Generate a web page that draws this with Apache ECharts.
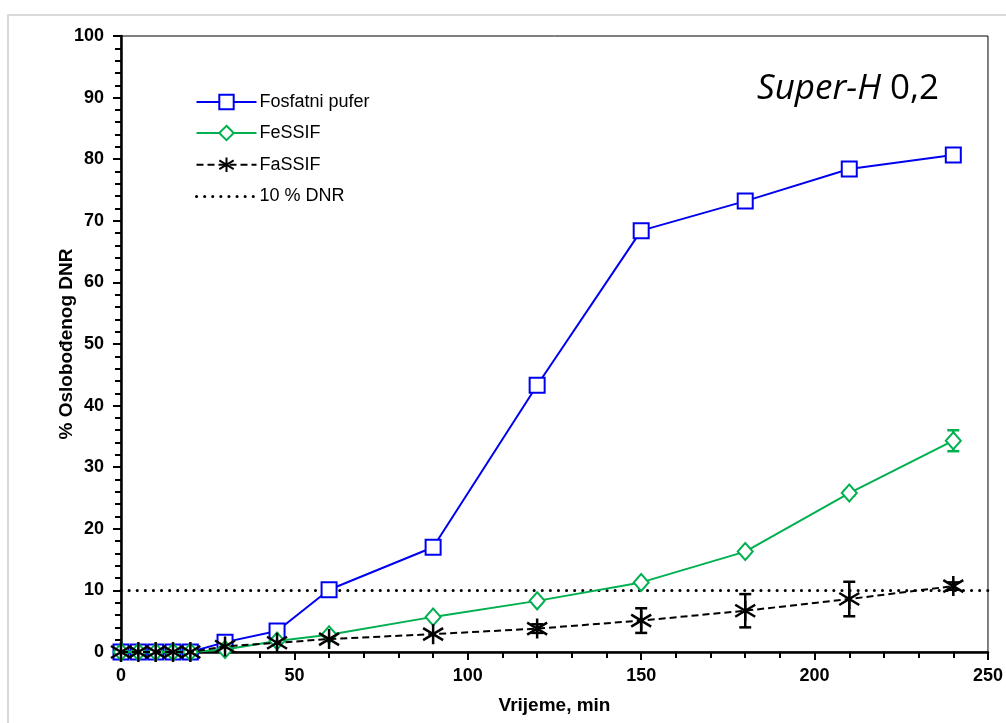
<!DOCTYPE html>
<html>
<head>
<meta charset="utf-8">
<script src="https://cdn.jsdelivr.net/npm/echarts@6/dist/echarts.min.js"></script>
<style>
html,body{margin:0;padding:0;background:#fff;}
#chart{width:1006px;height:723px;}
</style>
</head>
<body>
<div id="chart"></div>
<script>
// ---- data ----
var times = [0, 5, 10, 15, 20, 30, 45, 60, 90, 120, 150, 180, 210, 240];
var fosfatni = [0, 0, 0, 0, 0, 1.6, 3.4, 10.1, 17.0, 43.3, 68.4, 73.2, 78.4, 80.7];
var fosfatniErr = [0, 0, 0, 0, 0, 0, 0, 0, 0, 0, 0.7, 0.9, 0.3, 0.3];
var fessif = [0, 0, 0, 0, 0, 0.4, 1.8, 2.8, 5.7, 8.3, 11.3, 16.3, 25.8, 34.3];
var fessifErr = [0, 0, 0, 0, 0, 0, 0, 0, 0, 0, 0, 0, 0.4, 1.7];
var fassif = [0, 0, 0, 0, 0, 0.9, 1.5, 2.1, 2.9, 3.8, 5.1, 6.7, 8.6, 10.7];
var fassifErr = [0, 0, 0, 0, 0, 0, 0, 0, 0, 0.7, 2.0, 2.7, 2.8, 0.6];
var dnrLevel = 10;
var xTicks = [0, 50, 100, 150, 200, 250];
var yTicks = [0, 10, 20, 30, 40, 50, 60, 70, 80, 90, 100];
var names = ['Fosfatni pufer', 'FeSSIF', 'FaSSIF', '10 % DNR'];

function pairs(vals) { return times.map(function (t, i) { return [t, vals[i]]; }); }
function errData(vals, errs) {
  var out = [];
  times.forEach(function (t, i) { if (errs[i] > 0) out.push([t, vals[i] - errs[i], vals[i] + errs[i]]); });
  return out;
}
function errSeries(vals, errs, color, z) {
  return {
    type: 'custom', z: z, silent: true,
    data: errData(vals, errs),
    encode: { x: 0, y: [1, 2] },
    renderItem: function (params, api) {
      var lo = api.coord([api.value(0), api.value(1)]);
      var hi = api.coord([api.value(0), api.value(2)]);
      var w = 6;
      var st = { stroke: color, lineWidth: 2.5, fill: null };
      return { type: 'group', children: [
        { type: 'line', shape: { x1: lo[0], y1: lo[1], x2: hi[0], y2: hi[1] }, style: st },
        { type: 'line', shape: { x1: lo[0] - w, y1: lo[1], x2: lo[0] + w, y2: lo[1] }, style: st },
        { type: 'line', shape: { x1: hi[0] - w, y1: hi[1], x2: hi[0] + w, y2: hi[1] }, style: st }
      ]};
    }
  };
}

var asterisk = 'path://M0,-1L0,1M-0.9,-0.6L0.9,0.6M-0.9,0.6L0.9,-0.6';
var blue = '#0000F0', green = '#00B050', black = '#000000';
var tickFont = { fontFamily: 'Liberation Sans, Arial, sans-serif', fontWeight: 'bold', fontSize: 18, color: '#000' };
var nameFont = { fontFamily: 'Liberation Sans, Arial, sans-serif', fontWeight: 'bold', fontSize: 19, color: '#000' };

var chart = echarts.init(document.getElementById('chart'), null, { renderer: 'canvas' });
chart.setOption({
  animation: false,
  backgroundColor: '#fff',
  graphic: [
    { type: 'rect', z: -10, shape: { x: 8, y: 15, width: 1010, height: 720 }, style: { fill: null, stroke: '#d9d9d9', lineWidth: 2 } }
  ],
  title: {
    text: '{i|Super-H} {n|0,2}',
    left: 752, top: 67,
    textStyle: {
      fontWeight: 'normal',
      rich: {
        i: { fontFamily: 'Open Sans, sans-serif', fontStyle: 'italic', fontWeight: 'normal', fontSize: 35, color: '#000' },
        n: { fontFamily: 'Open Sans, sans-serif', fontWeight: 'normal', fontSize: 35, color: '#000', padding: [0, 0, 0, 4] }
      }
    }
  },
  legend: {
    data: [
      { name: names[0] },
      { name: names[1] },
      { name: names[2] },
      { name: names[3], itemStyle: { opacity: 0 }, lineStyle: { width: 3, type: [0.1, 8], cap: 'round' } }
    ],
    orient: 'vertical',
    left: 190, top: 88,
    itemWidth: 60, itemHeight: 18, itemGap: 13,
    textStyle: { fontFamily: 'Liberation Sans, Arial, sans-serif', fontSize: 18, color: '#000', padding: [0, 0, 0, -2] }
  },
  grid: { left: 121, top: 36, right: 17, bottom: 71, show: true, borderColor: '#000', borderWidth: 1, backgroundColor: 'transparent' },
  xAxis: {
    type: 'value', min: 0, max: 250, interval: 50,
    name: 'Vrijeme, min', nameLocation: 'middle', nameGap: 44, nameMoveOverlap: false,
    nameTextStyle: nameFont,
    axisLine: { lineStyle: { color: '#000', width: 2.5 } },
    axisTick: { show: true, inside: false, length: 8, lineStyle: { color: '#000', width: 2 } },
    minorTick: { show: true, splitNumber: 5, length: 6, lineStyle: { color: '#000', width: 2 } },
    splitLine: { show: false },
    axisLabel: Object.assign({ margin: 15, customValues: xTicks }, tickFont)
  },
  yAxis: {
    type: 'value', min: 0, max: 100, interval: 10,
    name: '% Oslobođenog DNR', nameLocation: 'middle', nameGap: 45, nameRotate: 90, nameMoveOverlap: false,
    nameTextStyle: nameFont,
    axisLine: { lineStyle: { color: '#000', width: 2.5 } },
    axisTick: { show: true, inside: false, length: 8, lineStyle: { color: '#000', width: 2 } },
    minorTick: { show: true, splitNumber: 5, length: 6, lineStyle: { color: '#000', width: 2 } },
    splitLine: { show: false },
    axisLabel: Object.assign({ margin: 17 }, tickFont)
  },
  series: [
    {
      name: names[3], type: 'line', z: 2, symbol: 'none',
      data: [[0, dnrLevel], [250, dnrLevel]],
      lineStyle: { color: black, width: 3, type: [0.1, 8], cap: 'round' },
      itemStyle: { color: black }
    },
    {
      name: names[0], type: 'line', z: 3, data: pairs(fosfatni),
      symbol: 'rect', symbolSize: 15, showAllSymbol: true,
      lineStyle: { color: blue, width: 2 },
      itemStyle: { color: '#fff', borderColor: blue, borderWidth: 2 }
    },
    errSeries(fosfatni, fosfatniErr, blue, 3),
    {
      name: names[1], type: 'line', z: 4, data: pairs(fessif),
      symbol: 'diamond', symbolSize: [15, 17], showAllSymbol: true,
      lineStyle: { color: green, width: 2 },
      itemStyle: { color: '#fff', borderColor: green, borderWidth: 2 }
    },
    errSeries(fessif, fessifErr, green, 4),
    {
      name: names[2], type: 'line', z: 5, data: pairs(fassif),
      symbol: asterisk, symbolSize: 20, showAllSymbol: true,
      lineStyle: { color: black, width: 2, type: [7, 4] },
      itemStyle: { color: 'none', borderColor: black, borderWidth: 2.5 }
    },
    errSeries(fassif, fassifErr, black, 5)
  ]
});
</script>
</body>
</html>
